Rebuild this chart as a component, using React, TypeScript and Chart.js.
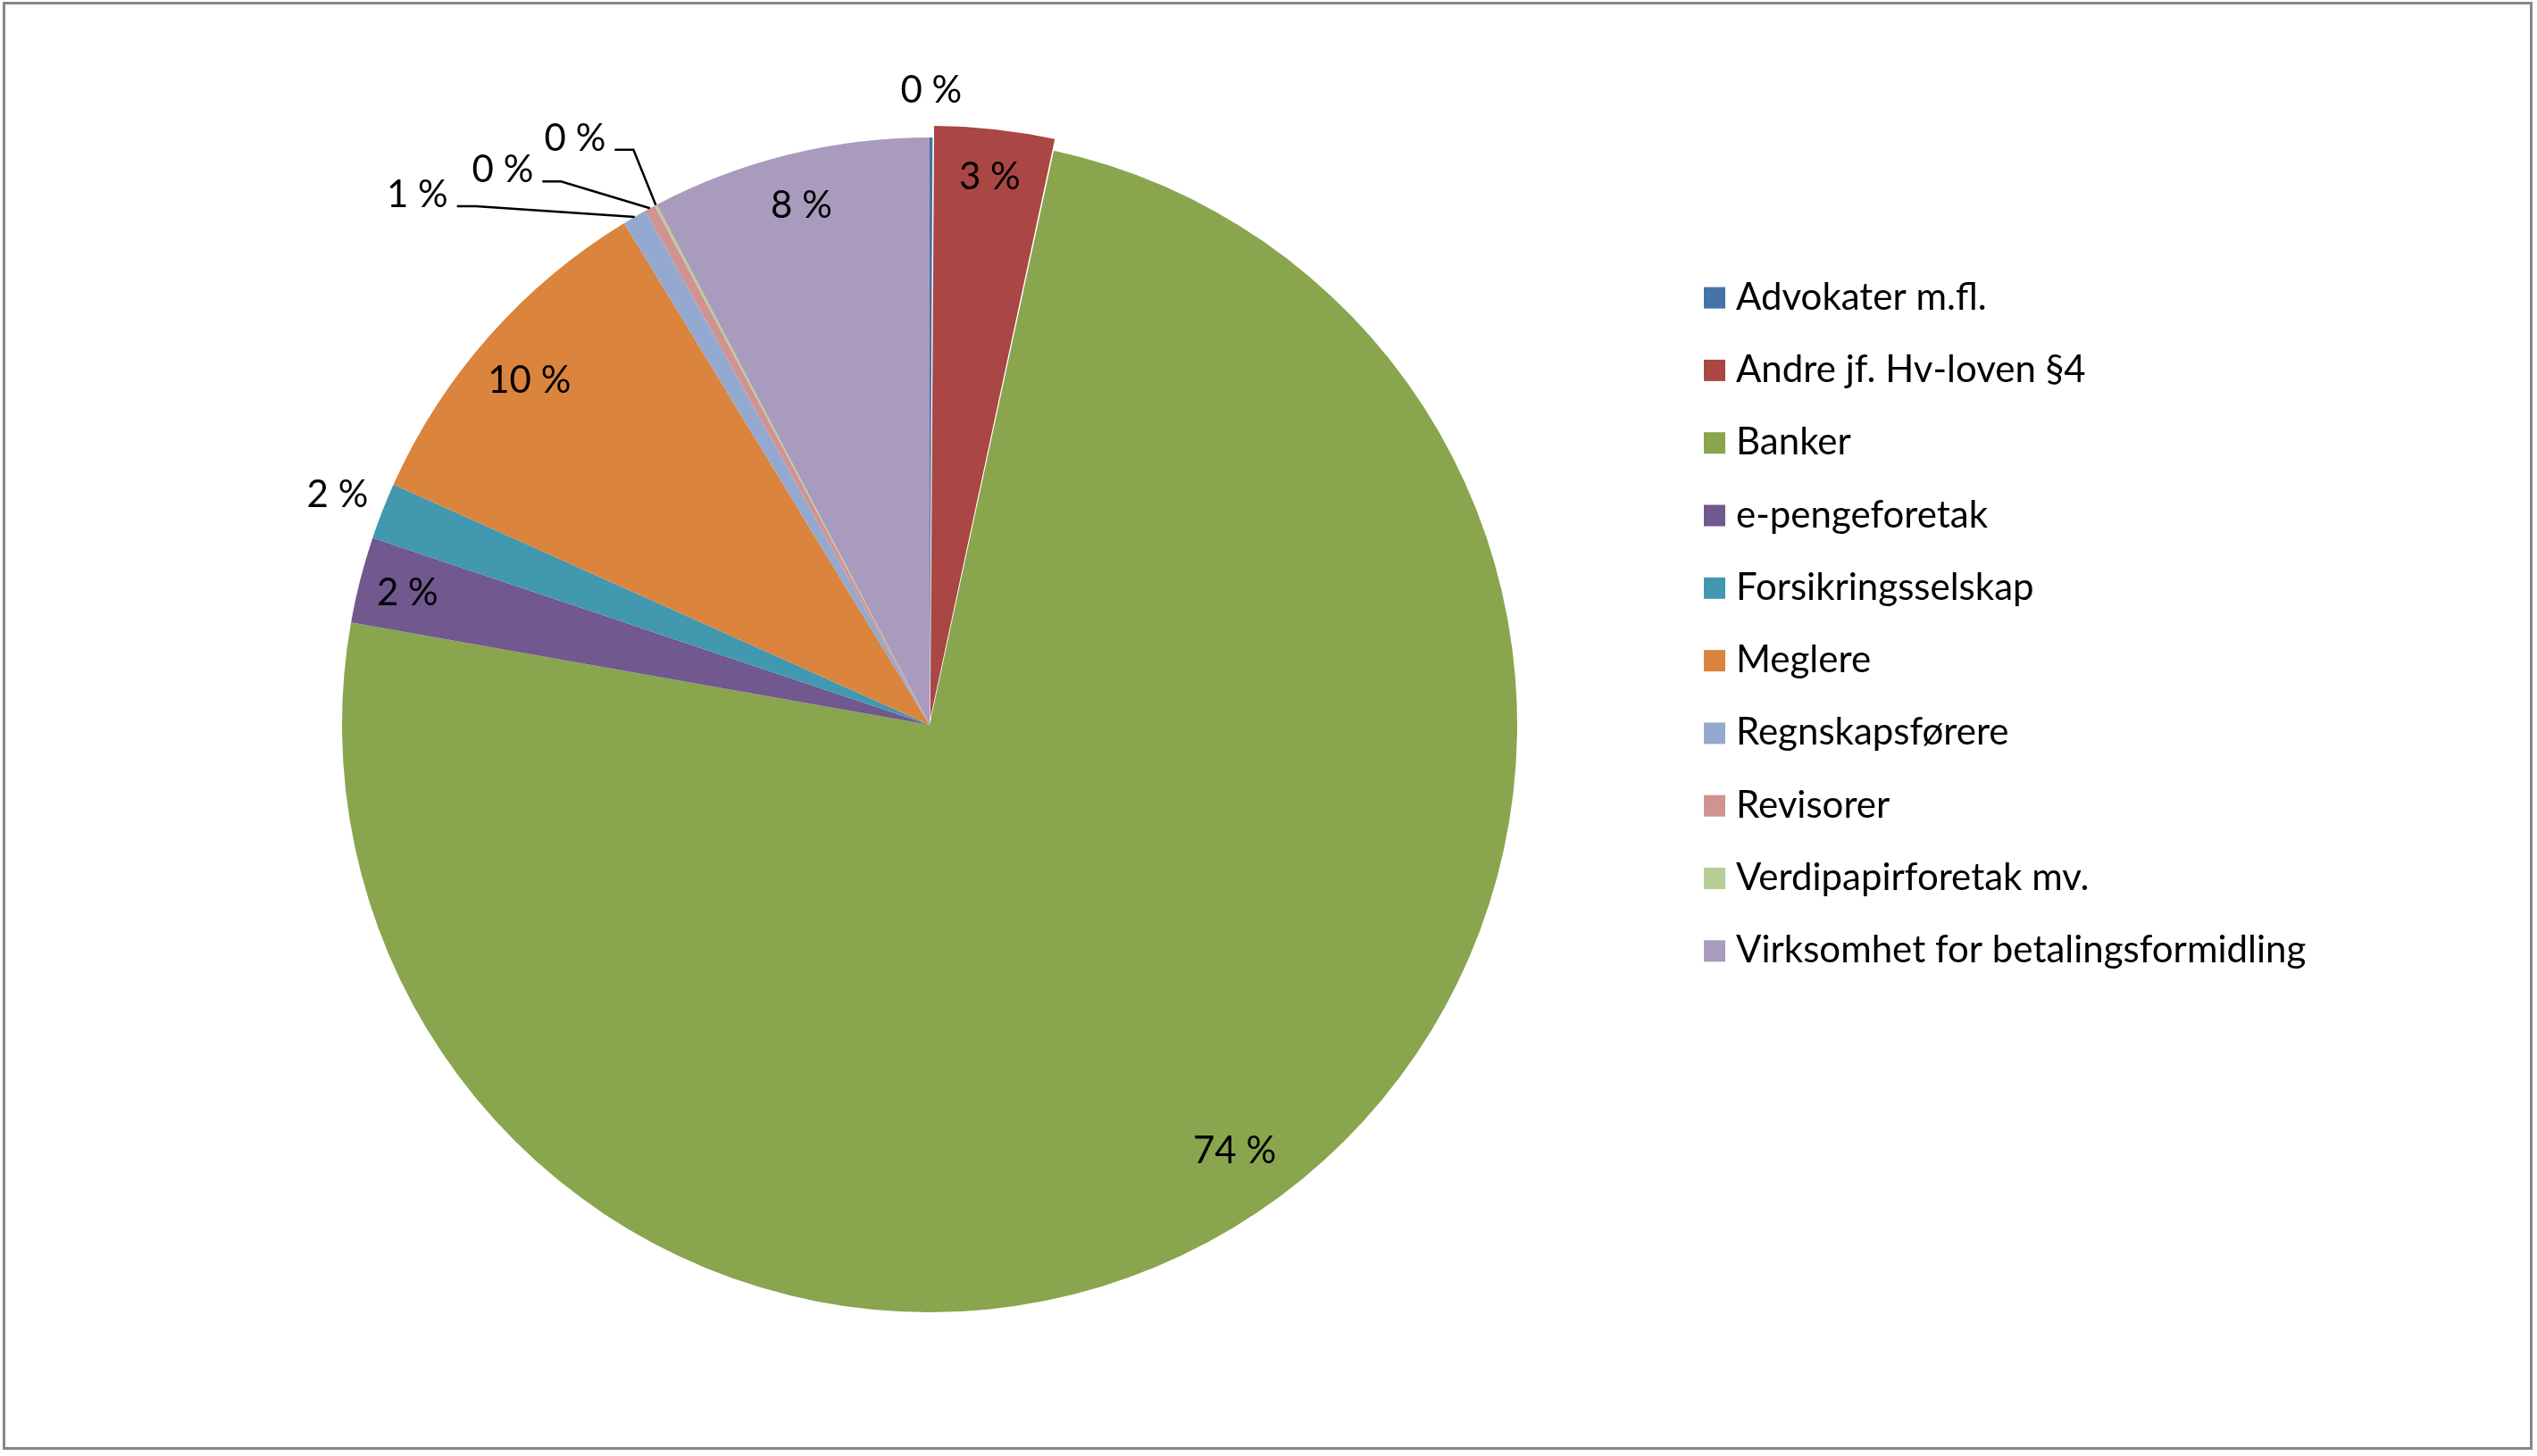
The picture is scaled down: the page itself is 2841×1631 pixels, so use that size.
import React, { useEffect, useRef } from 'react';
import { Chart, registerables } from 'chart.js';

Chart.register(...registerables);

// ---------- data ----------
const categories: string[] = [
  'Advokater m.fl.',
  'Andre jf. Hv-loven §4',
  'Banker',
  'e-pengeforetak',
  'Forsikringsselskap',
  'Meglere',
  'Regnskapsførere',
  'Revisorer',
  'Verdipapirforetak mv.',
  'Virksomhet for betalingsformidling',
];

const shares: number[] = [0.08, 3.31, 74.4, 2.37, 1.55, 9.59, 0.66, 0.29, 0.07, 7.68];

const sliceColors: string[] = [
  '#4572A7',
  '#AA4643',
  '#89A54E',
  '#71588F',
  '#4198AF',
  '#DB843D',
  '#93A9CF',
  '#D19392',
  '#B9CD96',
  '#A99BBD',
];

// exploded slice (Chart.js arc offset)
const sliceOffsets: number[] = [0, 29, 0, 0, 0, 0, 0, 0, 0, 0];

// ---------- layout / style ----------
const W = 2841;
const H = 1631;
const CX = 1041;
const CY = 812;
const R = 658;
const FONT = '42px Lato, "Noto Sans", "DejaVu Sans", sans-serif';
const CAP_HALF = 15;

type LabelMode =
  | { kind: 'inside'; k: number; da?: number }
  | { kind: 'outside' }
  | { kind: 'leader'; dx: number; dy: number };

const labelLayout: LabelMode[] = [
  { kind: 'outside' },
  { kind: 'inside', k: 0.92 },
  { kind: 'inside', k: 0.89, da: -1.8 },
  { kind: 'inside', k: 0.917 },
  { kind: 'outside' },
  { kind: 'inside', k: 0.9, da: -0.6 },
  { kind: 'leader', dx: -178, dy: -12 },
  { kind: 'leader', dx: -99.5, dy: -30 },
  { kind: 'leader', dx: -25, dy: -62 },
  { kind: 'inside', k: 0.913 },
];

const LEGEND_BOX_X = 1908;
const LEGEND_TEXT_X = 1944;
const LEGEND_TOP = 331.6;
const LEGEND_STEP = 81.3;
const LEGEND_BOX = 24;

const labelPlugin = {
  id: 'pieLabels',
  afterDatasetsDraw(chart: any) {
    const ctx: CanvasRenderingContext2D = chart.ctx;
    const meta = chart.getDatasetMeta(0);
    const data = chart.data.datasets[0].data as number[];
    const offsets = chart.data.datasets[0].offset as number[];
    const total = data.reduce((a, b) => a + b, 0);
    ctx.save();
    ctx.font = FONT;
    ctx.fillStyle = '#000';
    ctx.strokeStyle = '#000';
    ctx.lineWidth = 2.5;
    meta.data.forEach((arc: any, i: number) => {
      const p = arc.getProps(['x', 'y', 'startAngle', 'endAngle', 'outerRadius'], true);
      const mid = (p.startAngle + p.endAngle) / 2;
      const circ = p.endAngle - p.startAngle;
      const off = (offsets[i] || 0) / 4;
      const t = off * (1 + (1 - Math.sin(Math.min(Math.PI, circ))));
      const ox = p.x + Math.cos(mid) * t;
      const oy = p.y + Math.sin(mid) * t;
      const text = Math.round((data[i] / total) * 100) + ' %';
      const mode = labelLayout[i];
      const c = Math.cos(mid);
      const s = Math.sin(mid);
      if (mode.kind === 'inside') {
        const a = mid + ((mode.da || 0) * Math.PI) / 180;
        const r = p.outerRadius * mode.k;
        ctx.textAlign = 'center';
        ctx.textBaseline = 'alphabetic';
        ctx.fillText(text, ox + Math.cos(a) * r, oy + Math.sin(a) * r + CAP_HALF);
      } else if (mode.kind === 'outside') {
        const r = p.outerRadius + 54;
        ctx.textAlign = 'center';
        ctx.textBaseline = 'alphabetic';
        ctx.fillText(text, ox + c * r, oy + s * r + CAP_HALF);
      } else {
        const rx = ox + c * p.outerRadius;
        const ry = oy + s * p.outerRadius;
        const ex = rx + mode.dx;
        const ey = ry + mode.dy;
        const sx = ex - 21;
        ctx.beginPath();
        ctx.moveTo(rx, ry);
        ctx.lineTo(ex, ey);
        ctx.lineTo(sx, ey);
        ctx.stroke();
        ctx.textAlign = 'right';
        ctx.textBaseline = 'alphabetic';
        ctx.fillText(text, sx - 10, ey + 1);
      }
    });
    ctx.restore();
  },
  afterDraw(chart: any) {
    const ctx: CanvasRenderingContext2D = chart.ctx;
    const labels = chart.data.labels as string[];
    const colors = chart.data.datasets[0].backgroundColor as string[];
    ctx.save();
    ctx.font = FONT;
    ctx.textAlign = 'left';
    ctx.textBaseline = 'alphabetic';
    labels.forEach((lab, i) => {
      const yc = LEGEND_TOP + i * LEGEND_STEP;
      const base = yc + CAP_HALF;
      ctx.fillStyle = colors[i];
      ctx.fillRect(LEGEND_BOX_X, base - LEGEND_BOX - 1, LEGEND_BOX, LEGEND_BOX);
      ctx.fillStyle = '#000';
      ctx.fillText(lab, LEGEND_TEXT_X, base);
    });
    ctx.restore();
  },
};

export default function App() {
  const canvasRef = useRef<HTMLCanvasElement | null>(null);

  useEffect(() => {
    document.body.style.margin = '0';
    const canvas = canvasRef.current;
    if (!canvas) return;
    const chart = new Chart(canvas, {
      type: 'pie',
      data: {
        labels: categories,
        datasets: [
          {
            data: shares,
            backgroundColor: sliceColors,
            borderWidth: 0,
            offset: sliceOffsets,
            hoverOffset: 0,
          } as any,
        ],
      },
      options: {
        responsive: false,
        maintainAspectRatio: false,
        devicePixelRatio: 1,
        animation: false,
        radius: R,
        layout: {
          padding: {
            left: CX - R,
            top: CY - R,
            right: W - (CX + R),
            bottom: H - (CY + R),
          },
        },
        plugins: {
          legend: { display: false },
          tooltip: { enabled: false },
        },
        events: [],
      } as any,
      plugins: [labelPlugin],
    });
    let alive = true;
    if ((document as any).fonts && (document as any).fonts.load) {
      (document as any).fonts.load(FONT).then(() => {
        if (alive) chart.draw();
      }).catch(() => {});
    }
    return () => {
      alive = false;
      chart.destroy();
    };
  }, []);

  return (
    <div style={{ position: 'fixed', left: 0, top: 0, width: W, height: H, background: '#fff' }}>
      <canvas
        ref={canvasRef}
        width={W}
        height={H}
        style={{ display: 'block', width: W, height: H }}
      />
      <div
        style={{
          position: 'absolute',
          left: 3,
          top: 2,
          width: 2833,
          height: 1622,
          boxSizing: 'border-box',
          border: '3px solid #878787',
          pointerEvents: 'none',
        }}
      />
    </div>
  );
}
